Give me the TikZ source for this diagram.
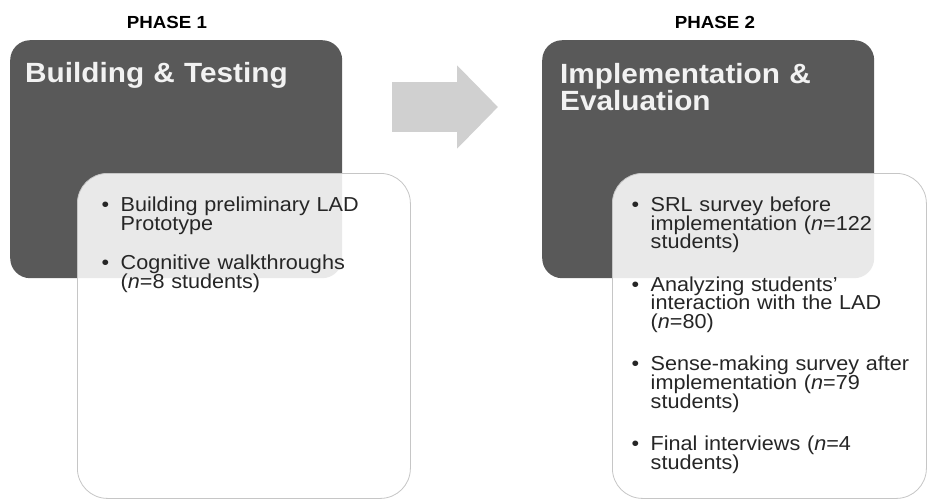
\documentclass[tikz,border=0pt]{standalone}
\usepackage{fontspec}
\setmainfont[FakeStretch=1.07]{Liberation Sans}
\usetikzlibrary{arrows.meta}

\definecolor{boxdark}{HTML}{595959}
\definecolor{arrowlight}{HTML}{D0D0D0}
\definecolor{listedge}{HTML}{C6C6C6}
\definecolor{listtext}{HTML}{262626}

\newcommand{\listitem}[1]{\hangindent=19pt\hangafter=1\noindent\makebox[19pt][l]{\textbullet}#1\par}

\tikzset{
   phasebox/.style={fill=boxdark, rounded corners=20pt, inner sep=0pt, anchor=north west,
      minimum width=332pt, minimum height=238pt},
   listbox/.style={fill=white, fill opacity=0.87, draw=listedge, line width=0.8pt,
      rounded corners=30pt, inner sep=0pt, anchor=north west, minimum height=325pt},
   phaselabel/.style={font=\fontsize{17.5}{20}\selectfont\bfseries, anchor=base, inner sep=0pt},
   boxtitle/.style={font=\fontsize{27.8}{27.5}\selectfont\bfseries, text=white!95!black,
      text width=320pt, align=left, anchor=base west, inner sep=0pt,
      execute at begin node={\lineskiplimit=-30pt}},
   itemlist/.style={font=\fontsize{20.2}{18.6}\selectfont, text=listtext, text width=300pt,
      align=left, anchor=base west, inner sep=0pt,
      execute at begin node={\setlength{\parskip}{#1}\lineskiplimit=-30pt}},
   blockarrow/.style={draw=arrowlight, line width=50pt, -{Triangle[length=41pt,width=81pt]}}
}

\begin{document}
\begin{tikzpicture}[x=1pt,y=-1pt]
   \useasboundingbox (0,0) rectangle (930,499);
   \node[phasebox] (phaseone) at (10,40) {};
   \node[phasebox] (phasetwo) at (542,40) {};
   \draw[blockarrow] ([xshift=50pt,yshift=-67pt]phaseone.north east)
      -- ([xshift=-44pt,yshift=-67pt]phasetwo.north west);
   \node[listbox, minimum width=333pt] (listone) at (77,173) {};
   \node[listbox, minimum width=314pt] (listtwo) at (612,173) {};
   \node[phaselabel] (labelone) at (167,28) {PHASE 1};
   \node[phaselabel] (labeltwo) at (715,28) {PHASE 2};
   \node[boxtitle] (titleone) at (25,82) {Building \& Testing};
   \node[boxtitle] (titletwo) at (560,83) {Implementation \&\newline Evaluation};
   \node[itemlist=20.5pt] (itemsone) at (101.5,211.7) {%
      \listitem{Building preliminary LAD\newline Prototype}
      \listitem{Cognitive walkthroughs\newline (\textit{n}=8 students)}};
   \node[itemlist=23.8pt] (itemstwo) at (631.5,211.7) {%
      \listitem{SRL survey before\newline implementation (\textit{n}=122\newline students)}
      \listitem{Analyzing students'\newline interaction with the LAD\newline (\textit{n}=80)}
      \listitem{Sense-making survey after\newline implementation (\textit{n}=79\newline students)}
      \listitem{Final interviews (\textit{n}=4\newline students)}};
\end{tikzpicture}
\end{document}
